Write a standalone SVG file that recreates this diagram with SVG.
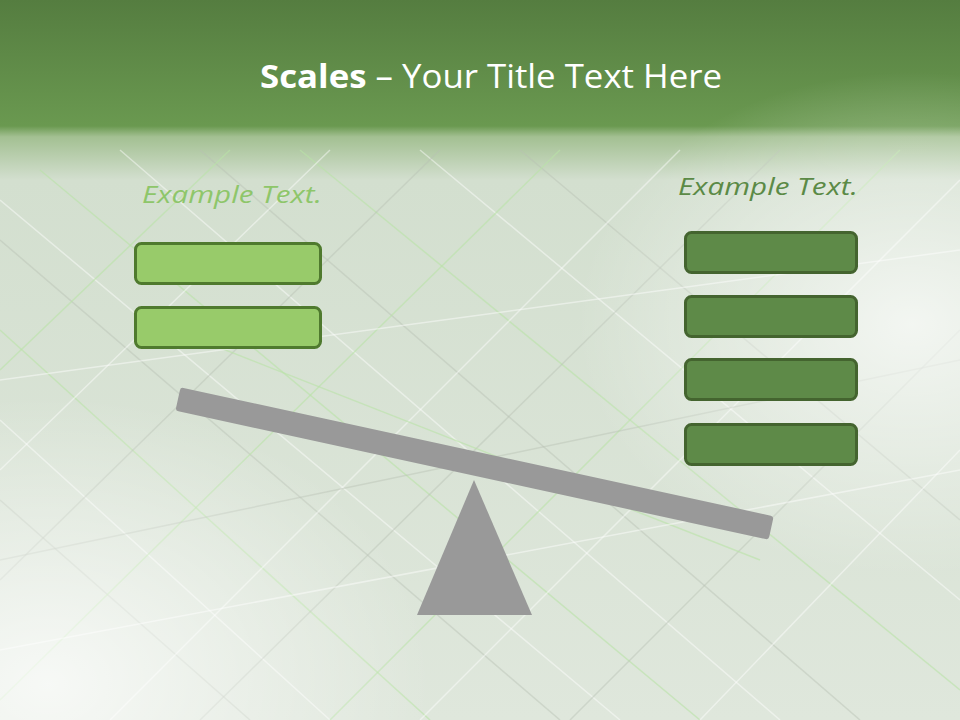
<svg xmlns="http://www.w3.org/2000/svg" width="960" height="720" viewBox="0 0 960 720">
  <defs>
    <linearGradient id="bg" x1="0" y1="0" x2="0" y2="1">
      <stop offset="0" stop-color="#557d40"/>
      <stop offset="0.175" stop-color="#6a9950"/>
      <stop offset="0.19" stop-color="#a3c092"/>
      <stop offset="0.25" stop-color="#d3dfcf"/>
      <stop offset="1" stop-color="#dfe7dc"/>
    </linearGradient>
    <radialGradient id="glowR" cx="0.95" cy="0.45" r="0.35">
      <stop offset="0" stop-color="#ffffff" stop-opacity="0.7"/>
      <stop offset="1" stop-color="#ffffff" stop-opacity="0"/>
    </radialGradient>
    <radialGradient id="glowB" cx="0.05" cy="0.95" r="0.4">
      <stop offset="0" stop-color="#ffffff" stop-opacity="0.75"/>
      <stop offset="1" stop-color="#ffffff" stop-opacity="0"/>
    </radialGradient>
    <style>
      .tex line { stroke-width: 1.5; }
      .w { stroke: #ffffff; stroke-opacity: 0.45; }
      .g { stroke: #b9e3a6; stroke-opacity: 0.6; }
      .d { stroke: #b7c2b3; stroke-opacity: 0.45; }
      .lbox { fill: #98cb6a; stroke: #4f7a2e; stroke-width: 3; }
      .rbox { fill: #5e8a48; stroke: #44642f; stroke-width: 3; }
      .ex { font-family: "Open Sans", "Liberation Sans", sans-serif; font-style: italic; font-size: 24px; }
    </style>
  </defs>

  <rect width="960" height="720" fill="url(#bg)"/>
  <g id="texture" class="tex">
    <line class="w" x1="0" y1="200" x2="620" y2="720"/>
    <line class="d" x1="0" y1="240" x2="560" y2="720"/>
    <line class="g" x1="40" y1="170" x2="700" y2="720"/>
    <line class="w" x1="120" y1="150" x2="780" y2="720"/>
    <line class="d" x1="200" y1="150" x2="860" y2="720"/>
    <line class="g" x1="300" y1="150" x2="960" y2="690"/>
    <line class="w" x1="420" y1="150" x2="960" y2="600"/>
    <line class="d" x1="520" y1="150" x2="960" y2="520"/>
    <line class="g" x1="0" y1="330" x2="430" y2="720"/>
    <line class="w" x1="0" y1="420" x2="330" y2="720"/>
    <line class="d" x1="0" y1="500" x2="250" y2="720"/>
    <line class="w" x1="960" y1="180" x2="420" y2="720"/>
    <line class="g" x1="900" y1="150" x2="330" y2="720"/>
    <line class="d" x1="780" y1="150" x2="200" y2="720"/>
    <line class="w" x1="680" y1="150" x2="110" y2="720"/>
    <line class="g" x1="560" y1="150" x2="0" y2="700"/>
    <line class="d" x1="440" y1="150" x2="0" y2="580"/>
    <line class="w" x1="330" y1="150" x2="0" y2="470"/>
    <line class="g" x1="230" y1="150" x2="0" y2="370"/>
    <line class="d" x1="960" y1="330" x2="570" y2="720"/>
    <line class="w" x1="960" y1="450" x2="700" y2="720"/>
    <line class="g" x1="200" y1="340" x2="760" y2="560"/>
    <line class="w" x1="0" y1="380" x2="960" y2="250"/>
    <line class="d" x1="0" y1="560" x2="960" y2="360"/>
    <line class="w" x1="0" y1="650" x2="960" y2="470"/>
  </g>
  <rect width="960" height="720" fill="url(#glowR)"/>
  <rect width="960" height="720" fill="url(#glowB)"/>

  <g id="title">
    <text x="491" y="88" text-anchor="middle" font-family="Open Sans, Liberation Sans, sans-serif" font-size="32" fill="#ffffff" textLength="462" lengthAdjust="spacingAndGlyphs"><tspan font-weight="bold">Scales</tspan> – Your Title Text Here</text>
  </g>

  <g id="left-label">
    <text class="ex" x="142" y="203" fill="#8ec66a" textLength="180" lengthAdjust="spacingAndGlyphs">Example Text.</text>
  </g>
  <g id="right-label">
    <text class="ex" x="678" y="195" fill="#5b8a46" textLength="180" lengthAdjust="spacingAndGlyphs">Example Text.</text>
  </g>

  <g id="left-box-1"><rect class="lbox" x="135.5" y="243.5" width="185" height="40" rx="6"/></g>
  <g id="left-box-2"><rect class="lbox" x="135.5" y="307.5" width="185" height="40" rx="6"/></g>

  <g id="right-box-1"><rect class="rbox" x="685.5" y="232.5" width="171" height="40" rx="6"/></g>
  <g id="right-box-2"><rect class="rbox" x="685.5" y="296.5" width="171" height="40" rx="6"/></g>
  <g id="right-box-3"><rect class="rbox" x="685.5" y="359.5" width="171" height="40" rx="6"/></g>
  <g id="right-box-4"><rect class="rbox" x="685.5" y="424.5" width="171" height="40" rx="6"/></g>

  <g id="seesaw">
    <polygon points="474,480 532,615 417,615" fill="#999999"/>
    <rect x="0" y="-12" width="607" height="24" rx="3" fill="#999999" transform="translate(178,399) rotate(12.27)"/>
  </g>
</svg>
